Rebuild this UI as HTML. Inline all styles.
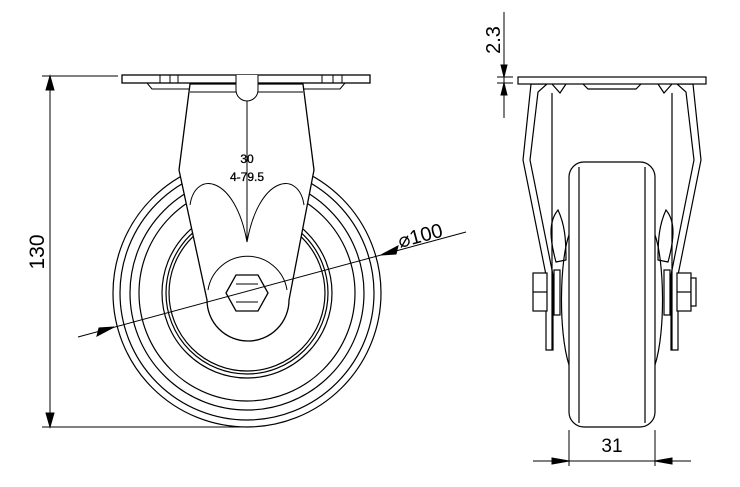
<!DOCTYPE html>
<html><head><style>html,body{margin:0;padding:0;background:#fff;}svg{display:block}</style></head>
<body>
<svg width="740" height="487" viewBox="0 0 740 487" xmlns="http://www.w3.org/2000/svg" font-family="Liberation Sans, sans-serif">
<g fill="none" stroke="#000" stroke-width="1.2">
<circle cx="247" cy="293" r="134"/>
<circle cx="247" cy="293" r="127"/>
<circle cx="247" cy="293" r="117"/>
<circle cx="247" cy="293" r="108"/>
<circle cx="247" cy="293" r="85"/>
<circle cx="247" cy="293" r="81"/>
<circle cx="247" cy="293" r="78"/>
</g>
<path d="M190,84 L179,170 L207,300 A41,41 0 0 0 289,300 L314,170 L303,84 Z" fill="#fff" stroke="#000" stroke-width="1.3"/>
<g fill="none" stroke="#000" stroke-width="1">
<path d="M190,205 C195,170 235,175 247,242 C259,175 299,170 304,205"/>
<path d="M208,290 A40,40 0 0 1 287,290" />
<line x1="247" y1="95" x2="247" y2="242"/>
<polygon points="226,293 236,275 258,275 268,293 258,311 236,311" stroke-width="1.3"/>
<line x1="236" y1="284" x2="258" y2="284"/>
<line x1="236" y1="302" x2="258" y2="302"/>
</g>
<rect x="122" y="75" width="248" height="8" fill="#fff" stroke="#000" stroke-width="1.3"/>
<g fill="none" stroke="#000" stroke-width="1">
<path d="M147,83 L152,89 L190,89"/><path d="M345,83 L340,89 L303,89"/>
<line x1="160" y1="75" x2="160" y2="83"/><line x1="170" y1="75" x2="170" y2="83"/><line x1="178" y1="75" x2="178" y2="83"/>
<line x1="322" y1="75" x2="322" y2="83"/><line x1="333" y1="75" x2="333" y2="83"/><line x1="342" y1="75" x2="342" y2="83"/>
<line x1="190" y1="92" x2="303" y2="92"/>
<path d="M236,75 L236,90 A11,11 0 0 0 258,90 L258,75" fill="#fff"/>
</g>
<text x="247" y="163" font-size="12" text-anchor="middle" stroke="#000" stroke-width="0.3">30</text>
<text x="247" y="181" font-size="12" text-anchor="middle" stroke="#000" stroke-width="0.3">4-79.5</text>
<g stroke="#000" stroke-width="1" fill="#000">
<line x1="42" y1="76" x2="118" y2="76"/>
<line x1="42" y1="427" x2="248" y2="427"/>
<line x1="50" y1="76" x2="50" y2="427"/>
<polygon points="50,76 46,90 54,90"/><polygon points="50,427 46,413 54,413"/>
<line x1="78" y1="337" x2="466" y2="232"/>
<polygon points="114,327 97,336 99,328" /><polygon points="381,255 398,246 396,254"/>
</g>
<text transform="translate(44,252) rotate(-90)" font-size="21" text-anchor="middle">130</text>
<text transform="translate(400,248) rotate(-15)" font-size="20">⌀100</text>
<g fill="#fff" stroke="#000" stroke-width="1.2">
<path d="M531,84 L523,160 L546,275 L546,350 L553,350 L553,275 L530,160 L538,92 L547,84 Z"/>
<path d="M693,84 L701,160 L678,275 L678,350 L671,350 L671,275 L694,160 L686,92 L677,84 Z"/>
<path d="M558,210 C565,225 566,240 566,260 L556,262 C550,240 548,222 558,210 Z"/>
<path d="M666,210 C659,225 658,240 658,260 L668,262 C674,240 676,222 666,210 Z"/>
<path d="M569,235 C560,260 558,330 569,365 M655,235 C664,260 666,330 655,365" fill="none"/>
<line x1="552" y1="93" x2="552" y2="350"/><line x1="672" y1="93" x2="672" y2="350"/>
<rect x="569" y="162" width="86" height="265" rx="15"/>
<line x1="579" y1="167" x2="579" y2="423"/><line x1="645" y1="167" x2="645" y2="423"/>
<rect x="533" y="273" width="14" height="38"/><line x1="533" y1="292" x2="547" y2="292"/>
<rect x="677" y="273" width="14" height="38"/><line x1="677" y1="292" x2="691" y2="292"/>
<rect x="691" y="278" width="5" height="28"/>
<rect x="554" y="270" width="6" height="45"/><rect x="664" y="270" width="6" height="45"/>
<path d="M552,84 L560,93 L566,84 M672,84 L664,93 L658,84 M583,84 L588,89 L636,89 L641,84"/>
<rect x="518" y="77" width="188" height="7"/>
</g>
<g stroke="#000" stroke-width="1" fill="#000">
<line x1="504" y1="12" x2="504" y2="118"/>
<line x1="497" y1="77" x2="513" y2="77"/><line x1="497" y1="83" x2="513" y2="83"/>
<polygon points="504,77 501,65 507,65"/><polygon points="504,83 501,95 507,95"/>
<line x1="569" y1="430" x2="569" y2="466"/><line x1="655" y1="430" x2="655" y2="466"/>
<line x1="533" y1="461" x2="691" y2="461"/>
<polygon points="569,461 552,458 552,464"/><polygon points="655,461 672,458 672,464"/>
</g>
<text transform="translate(500,40) rotate(-90)" font-size="20" text-anchor="middle">2.3</text>
<text x="612" y="452" font-size="19" text-anchor="middle">31</text>
</svg>
</body></html>
